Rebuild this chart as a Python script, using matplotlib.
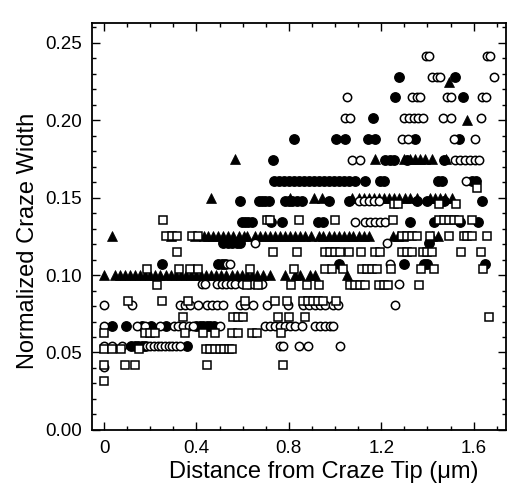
import matplotlib
matplotlib.use('Agg')
import matplotlib.pyplot as plt
from matplotlib.ticker import MultipleLocator, FormatStrFormatter

plt.rcParams['font.family'] = ['Liberation Sans', 'DejaVu Sans']

# filled triangles: one x list per width level
tri_levels = [0.100, 0.125, 0.150, 0.175, 0.200, 0.225]
tri_x = [
    [0.0, 0.046, 0.068, 0.09, 0.112, 0.134, 0.156, 0.178, 0.2, 0.222, 0.244, 0.266,
     0.288, 0.31, 0.332, 0.354, 0.376, 0.398, 0.42, 0.442, 0.464, 0.486, 0.508, 0.53,
     0.552, 0.574, 0.596, 0.618, 0.64, 0.66, 0.69, 0.718, 0.783, 0.826, 0.848, 0.891,
     0.915, 1.05],
    [0.034, 0.29, 0.395, 0.432, 0.452, 0.472, 0.494, 0.516, 0.538, 0.56, 0.582, 0.604,
     0.617, 0.652, 0.674, 0.696, 0.718, 0.74, 0.762, 0.784, 0.806, 0.828, 0.85, 0.872,
     0.894, 0.929, 0.95, 0.972, 0.994, 1.016, 1.038, 1.06, 1.079, 1.102, 1.124, 1.145,
     1.252, 1.274, 1.296, 1.418, 1.447],
    [0.465, 0.807, 0.907, 0.944, 1.073, 1.102, 1.124, 1.146, 1.167, 1.189, 1.211,
     1.232, 1.254, 1.276, 1.305, 1.326, 1.355, 1.413, 1.434, 1.456, 1.478, 1.507],
    [0.566, 1.175, 1.297, 1.326, 1.348, 1.37, 1.391, 1.42, 1.48],
    [1.572],
    [1.495],
]

# filled circles
fc_levels = [0.054, 0.0672, 0.1074, 0.1209, 0.1343, 0.1477, 0.161, 0.1746, 0.188,
             0.2015, 0.215, 0.228]
fc_x = [
    [0.118, 0.133, 0.148, 0.162, 0.176, 0.357],
    [0.036, 0.097, 0.164, 0.205, 0.27, 0.40, 0.415, 0.43, 0.445, 0.46, 0.475],
    [0.25, 0.495, 0.51, 0.525, 1.016, 1.30, 1.384, 1.398, 1.648],
    [0.515, 0.535, 0.555, 0.575, 0.59, 1.408],
    [0.595, 0.61, 0.625, 0.64, 0.724, 0.77, 0.927, 0.947, 1.325, 1.43, 1.541, 1.62],
    [0.59, 0.669, 0.684, 0.698, 0.712, 0.785, 0.80, 0.813, 0.835, 0.857, 0.975,
     1.059, 1.355, 1.40, 1.47, 1.637],
    [0.734, 0.756, 0.777, 0.799, 0.821, 0.842, 0.864, 0.886, 0.907, 0.929, 0.951,
     0.972, 0.994, 1.016, 1.037, 1.059, 1.088, 1.131, 1.195, 1.211, 1.446, 1.463,
     1.593, 1.610],
    [0.732, 1.218, 1.24, 1.254, 1.312, 1.47],
    [0.821, 1.006, 1.042, 1.143, 1.175, 1.345, 1.536],
    [1.164],
    [1.261, 1.553],
    [1.278, 1.52],
]

# open circles
oc_levels = [0.0403, 0.054, 0.0672, 0.0806, 0.094, 0.1074, 0.1209, 0.1343, 0.1477,
             0.161, 0.1746, 0.188, 0.2015, 0.215, 0.228, 0.2417]
oc_x = [
    [0.0],
    [0.0, 0.034, 0.077, 0.184, 0.2, 0.216, 0.232, 0.248, 0.265, 0.28, 0.296, 0.312,
     0.328, 0.763, 0.773, 0.844, 0.884, 1.022],
    [0.0, 0.142, 0.178, 0.243, 0.301, 0.322, 0.34, 0.366, 0.387, 0.503, 0.697, 0.719,
     0.741, 0.762, 0.784, 0.806, 0.827, 0.855, 0.913, 0.935, 0.956, 0.978, 0.992],
    [0.0, 0.12, 0.33, 0.351, 0.373, 0.406, 0.445, 0.467, 0.489, 0.513, 0.587, 0.608,
     0.643, 0.705, 0.797, 0.862, 0.888, 0.913, 0.935, 0.956, 0.992, 1.014, 1.258],
    [0.424, 0.438, 0.489, 0.51, 0.53, 0.55, 0.568, 0.595, 0.624, 0.645, 0.665, 0.684,
     1.279],
    [0.532, 0.546, 1.237],
    [0.653, 1.224],
    [1.088, 1.131, 1.153, 1.175, 1.196, 1.218],
    [1.102, 1.124, 1.146, 1.17, 1.19],
    [1.565],
    [1.073, 1.11, 1.521, 1.543, 1.564, 1.586, 1.608, 1.622],
    [1.29, 1.316, 1.514, 1.608],
    [1.045, 1.066, 1.297, 1.319, 1.34, 1.36, 1.381, 1.466, 1.504, 1.63],
    [1.052, 1.333, 1.355, 1.37, 1.485, 1.504, 1.637, 1.654],
    [1.42, 1.44, 1.456, 1.687],
    [1.395, 1.405, 1.66, 1.67],
]

# open squares
sq_levels = [0.0313, 0.0417, 0.0521, 0.0625, 0.0729, 0.0833, 0.0938, 0.1042, 0.1146,
             0.125, 0.1354, 0.1458, 0.1563]
sq_x = [
    [0.0],
    [0.0, 0.09, 0.133, 0.444, 0.776],
    [0.0, 0.036, 0.075, 0.149, 0.44, 0.46, 0.48, 0.50, 0.52, 0.54, 0.555],
    [0.0, 0.176, 0.198, 0.22, 0.35, 0.43, 0.48, 0.552, 0.581, 0.639, 0.66, 0.766],
    [0.34, 0.559, 0.581, 0.602, 0.754, 0.802, 0.87, 1.668],
    [0.104, 0.249, 0.364, 0.61, 0.74, 0.79, 0.862, 0.884, 0.906, 0.927, 0.949, 1.004],
    [0.228, 0.618, 0.665, 0.81, 0.88, 0.932, 1.066, 1.088, 1.11, 1.131, 1.19, 1.21,
     1.23, 1.362],
    [0.186, 0.325, 0.371, 0.407, 0.631, 0.822, 0.956, 0.985, 1.036, 1.115, 1.137,
     1.16, 1.18, 1.242, 1.372, 1.429, 1.642],
    [0.316, 0.731, 0.835, 0.956, 0.98, 1.0, 1.02, 1.06, 1.113, 1.175, 1.193, 1.29,
     1.312, 1.334, 1.38, 1.40, 1.42, 1.545, 1.632],
    [0.27, 0.292, 0.314, 0.38, 0.407, 1.29, 1.312, 1.334, 1.355, 1.413, 1.492, 1.557,
     1.572, 1.593, 1.656],
    [0.256, 0.704, 0.718, 0.845, 1.0, 1.25, 1.449, 1.47, 1.492, 1.514, 1.536, 1.592],
    [1.254, 1.274, 1.45, 1.522],
    [1.613],
]


def flatten(levels, xs):
    px, py = [], []
    for lev, row in zip(levels, xs):
        px.extend(row)
        py.extend([lev] * len(row))
    return px, py


fig = plt.figure(figsize=(5.09, 4.93), dpi=100)
ax = fig.add_axes([0.180, 0.128, 0.814, 0.826])

x, y = flatten(tri_levels, tri_x)
ax.plot(x, y, '^', color='black', ms=7.3, mec='black', mew=0.5, ls='none')
x, y = flatten(fc_levels, fc_x)
ax.plot(x, y, 'o', color='black', ms=6.8, ls='none')
x, y = flatten(oc_levels, oc_x)
ax.plot(x, y, 'o', mfc='white', mec='black', ms=6.0, mew=1.1, ls='none')
x, y = flatten(sq_levels, sq_x)
ax.plot(x, y, 's', mfc='white', mec='black', ms=5.6, mew=1.1, ls='none')

ax.set_xlim(-0.054, 1.74)
ax.set_ylim(0, 0.263)

ax.xaxis.set_major_locator(MultipleLocator(0.4))
ax.xaxis.set_minor_locator(MultipleLocator(0.1))
ax.yaxis.set_major_locator(MultipleLocator(0.05))
ax.yaxis.set_minor_locator(MultipleLocator(0.01))
ax.yaxis.set_major_formatter(FormatStrFormatter('%.2f'))
ax.set_xticks([0, 0.4, 0.8, 1.2, 1.6])
ax.set_xticklabels(['0', '0.4', '0.8', '1.2', '1.6'])

ax.tick_params(which='both', direction='in', top=True, right=True, width=1.0)
ax.tick_params(which='major', length=6, labelsize=13.5)
ax.tick_params(which='minor', length=3)
ax.tick_params(axis='x', which='major', pad=7)
ax.tick_params(axis='y', which='major', pad=7)
for s in ax.spines.values():
    s.set_linewidth(1.3)

ax.set_xlabel('Distance from Craze Tip (\u03bcm)', fontsize=17)
ax.set_ylabel('Normalized Craze Width', fontsize=17)
ax.xaxis.set_label_coords(0.561, -0.076)
ax.yaxis.set_label_coords(-0.128, 0.464)

fig.savefig('out.png', dpi=100)
